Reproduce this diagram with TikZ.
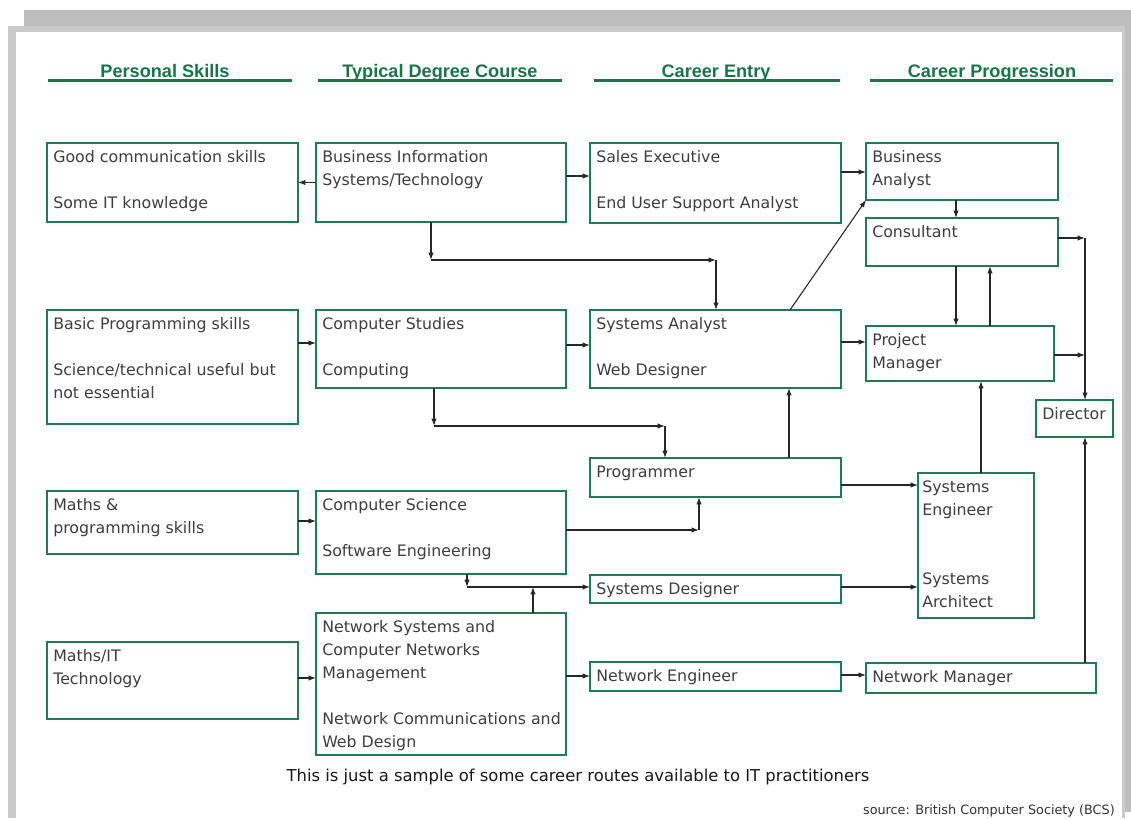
\documentclass[tikz,border=0pt]{standalone}
\usepackage{fontspec}
\setmainfont{DejaVu Sans}
\newfontfamily\hdrfont{Liberation Sans}
\usetikzlibrary{arrows.meta}
\definecolor{boxgreen}{RGB}{34,122,82}
\definecolor{hdrgreen}{RGB}{22,118,72}
\definecolor{txtgray}{RGB}{62,62,62}
\definecolor{frameA}{RGB}{190,190,190}
\definecolor{frameB}{RGB}{202,202,202}
\newcommand{\mkbox}[5]{\node[cbox, minimum width={(#4-#2)*0.75pt}, minimum height={(#5-#3)*0.75pt}] (#1) at (#2,#3) {};}
\newcommand{\btext}[3][6]{\node[btxt] (#2-t) at ([shift={(#1,19.5)}]#2.north west) {\parbox[t]{12cm}{#3}};}
\tikzset{
  cbox/.style={draw=boxgreen, line width=1.6pt, fill=white, anchor=north west, inner sep=0pt, outer sep=0pt},
  btxt/.style={anchor=base west, inner sep=0pt, text=txtgray, font=\fontsize{11.85}{17.25}\selectfont},
  hdr/.style={anchor=base, inner sep=0pt, text=hdrgreen, font=\hdrfont\bfseries\fontsize{13.6}{16}\selectfont},
  hline/.style={draw=hdrgreen, line width=2.3pt},
  arr/.style={draw=black!85, line width=0.8pt, -{Latex[length=5.5pt,width=4pt]}},
}
\begin{document}
\begin{tikzpicture}[x=0.75pt,y=-0.75pt]
\useasboundingbox (0,0) rectangle (1131,818);
% frame
\fill[white] (0,0) rectangle (1131,818);
\fill[frameA] (24,10) rectangle (1131,812);
\fill[frameB] (8,26) rectangle (1125,818);
\fill[white] (16,32) rectangle (1122,818);
% headers
\node[hdr] (h1) at (165,77) {Personal Skills};
\node[hdr] (h2) at (440,77) {Typical Degree Course};
\node[hdr] (h3) at (716,77) {Career Entry};
\node[hdr] (h4) at (992,77) {Career Progression};
\draw[hline] (48,80.5) -- (292,80.5);
\draw[hline] (318,80.5) -- (562,80.5);
\draw[hline] (594,80.5) -- (840,80.5);
\draw[hline] (870,80.5) -- (1113,80.5);
% boxes
\mkbox{A1}{47}{143}{298}{222}
\mkbox{B1}{316}{143}{566}{222}
\mkbox{C1}{590}{143}{841}{223}
\mkbox{D1}{866}{143}{1058}{200}
\mkbox{Cons}{866}{218}{1058}{266}
\mkbox{A2}{47}{310}{298}{424}
\mkbox{B2}{316}{310}{566}{388}
\mkbox{C2}{590}{310}{841}{388}
\mkbox{PM}{866}{326}{1054}{381}
\mkbox{Dir}{1036}{400}{1113}{437}
\mkbox{Prog}{590}{458}{841}{497}
\mkbox{A3}{47}{491}{298}{554}
\mkbox{B3}{316}{491}{566}{574}
\mkbox{SE}{918}{473}{1034}{618}
\mkbox{SD}{590}{575}{841}{603}
\mkbox{A4}{47}{642}{298}{719}
\mkbox{B4}{316}{613}{566}{755}
\mkbox{NE}{590}{662}{841}{691}
\mkbox{NM}{866}{663}{1096}{693}
% texts
\btext{A1}{Good communication skills\\[17.25pt]Some IT knowledge}
\btext{B1}{Business Information\\Systems/Technology}
\btext{C1}{Sales Executive\\[17.25pt]End User Support Analyst}
\btext{D1}{Business\\Analyst}
\btext{Cons}{Consultant}
\btext{A2}{Basic Programming skills\\[17.25pt]Science/technical useful but\\not essential}
\btext{B2}{Computer Studies\\[17.25pt]Computing}
\btext{C2}{Systems Analyst\\[17.25pt]Web Designer}
\btext{PM}{Project\\Manager}
\btext{Dir}{Director}
\btext{Prog}{Programmer}
\btext{A3}{Maths \&\\programming skills}
\btext{B3}{Computer Science\\[17.25pt]Software Engineering}
\btext[4]{SE}{Systems\\Engineer\\[34.5pt]Systems\\Architect}
\btext{SD}{Systems Designer}
\btext{A4}{Maths/IT\\Technology}
\btext{B4}{Network Systems and\\Computer Networks\\Management\\[17.25pt]Network Communications and\\Web Design}
\btext{NE}{Network Engineer}
\btext{NM}{Network Manager}
% corner coordinates
\coordinate (k1) at (431,260);
\coordinate (k2) at (716,260);
\coordinate (k3) at (434,426);
\coordinate (k4) at (665,426);
\coordinate (k5) at (699,530);
\coordinate (k6) at (467,587);
\coordinate (k7) at (533,587);
\coordinate (j1) at (1085,238);
\coordinate (j2) at (1085,355);
% connectors
\draw[arr] (B1.west) -- (A1.east);
\draw[arr] (B1.east |- 0,176) -- (C1.west |- 0,176);
\draw[arr] (C1.east |- 0,172) -- (D1.west |- 0,172);
\draw[arr] (D1.south -| 956,0) -- (Cons.north -| 956,0);
\draw[arr] (Cons.east |- j1) -- (j1);
\draw[arr] (j1) -- (Dir.north -| j1);
\draw[arr] (PM.east |- j2) -- (j2);
\draw[arr] (NM.north -| j1) -- (Dir.south -| j1);
\draw[arr] (B1.south -| k1) -- (k1);
\draw[arr] (k1) -- (k2);
\draw[arr] (k2) -- (C2.north -| k2);
\draw[arr] (C2.north -| 790,0) -- (D1.south west);
\draw[arr] (Cons.south -| 956,0) -- (PM.north -| 956,0);
\draw[arr] (PM.north -| 990,0) -- (Cons.south -| 990,0);
\draw[arr] (A2.east |- 0,343) -- (B2.west |- 0,343);
\draw[arr] (B2.east |- 0,345) -- (C2.west |- 0,345);
\draw[arr] (C2.east |- 0,342) -- (PM.west |- 0,342);
\draw[arr] (B2.south -| k3) -- (k3);
\draw[arr] (k3) -- (k4);
\draw[arr] (k4) -- (Prog.north -| k4);
\draw[arr] (Prog.north -| 789,0) -- (C2.south -| 789,0);
\draw[arr] (Prog.east |- 0,485) -- (SE.west |- 0,485);
\draw[arr] (SE.north -| 981,0) -- (PM.south -| 981,0);
\draw[arr] (A3.east |- 0,521) -- (B3.west |- 0,521);
\draw[arr] (B3.east |- k5) -- (k5);
\draw[arr] (k5) -- (Prog.south -| k5);
\draw[arr] (B3.south -| k6) -- (k6);
\draw[arr] (k6) -- (SD.west |- k6);
\draw[arr] (B4.north -| k7) -- (k7);
\draw[arr] (SD.east |- k6) -- (SE.west |- k6);
\draw[arr] (A4.east |- 0,678) -- (B4.west |- 0,678);
\draw[arr] (B4.east |- 0,676) -- (NE.west |- 0,676);
\draw[arr] (NE.east |- 0,675) -- (NM.west |- 0,675);
% captions
\node[anchor=base, inner sep=0pt, text=black!90, font=\fontsize{12.3}{14}\selectfont] (cap) at (578,781) {This is just a sample of some career routes available to IT practitioners};
\node[anchor=base east, inner sep=0pt, text=black!80, font=\fontsize{9.6}{11}\selectfont] (src) at (1115,814) {source: British Computer Society (BCS)};
\end{tikzpicture}
\end{document}
